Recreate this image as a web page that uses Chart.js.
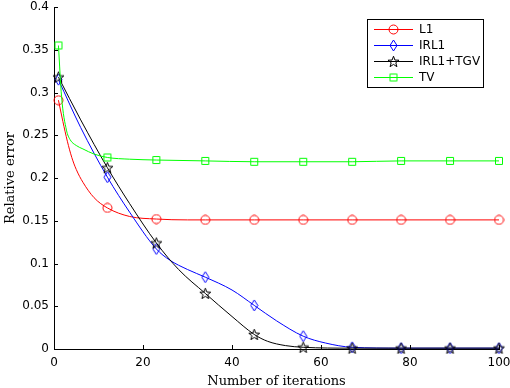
<!DOCTYPE html>
<html>
<head>
<meta charset="utf-8">
<script src="https://cdn.jsdelivr.net/npm/chart.js@4.4.0/dist/chart.umd.min.js"></script>
<style>
  body { margin: 0; background: #fff; }
  #wrap { width: 510px; height: 388px; }
</style>
</head>
<body>
<div id="wrap"><canvas id="errChart" width="510" height="388"></canvas></div>
<script>
// iterations where markers are drawn
const markerIters = [1, 12, 23, 34, 45, 56, 67, 78, 89, 100];

// L1
const l1Iters = [1, 2, 3, 4, 5, 6.5, 9, 12, 17, 23, 30, 34, 45, 56, 67, 78, 89, 100];
const l1Err = [0.291, 0.266, 0.243, 0.224, 0.210, 0.195, 0.177, 0.165, 0.155, 0.152, 0.151, 0.151, 0.151, 0.151, 0.151, 0.151, 0.151, 0.151];

// IRL1
const irl1Iters = [1, 6, 12, 17, 23, 26, 30, 34, 40, 45, 50, 56, 61, 67, 78, 89, 100];
const irl1Err = [0.315, 0.259, 0.201, 0.160, 0.117, 0.104, 0.093, 0.084, 0.069, 0.051, 0.033, 0.015, 0.007, 0.002, 0.001, 0.001, 0.001];

// IRL1+TGV
const tgvIters = [1, 6, 12, 17, 23, 28, 34, 40, 45, 48, 52, 56, 67, 78, 89, 100];
const tgvErr = [0.318, 0.268, 0.212, 0.170, 0.124, 0.093, 0.065, 0.038, 0.017, 0.009, 0.004, 0.002, 0.001, 0.001, 0.001, 0.001];

// TV
const tvIters = [1, 1.7, 2.8, 3.6, 5, 6.5, 9, 12, 17, 23, 34, 45, 56, 67, 78, 89, 100];
const tvErr = [0.355, 0.295, 0.256, 0.245, 0.238, 0.234, 0.228, 0.224, 0.222, 0.221, 0.220, 0.219, 0.219, 0.219, 0.220, 0.220, 0.220];

const xTicks = [0, 20, 40, 60, 80, 100];
const yTicks = [0, 0.05, 0.1, 0.15, 0.2, 0.25, 0.3, 0.35, 0.4];

// marker images (matlab style, unfilled)
function marker(w, h, color, path) {
  const c = document.createElement('canvas');
  c.width = w; c.height = h;
  const g = c.getContext('2d');
  g.strokeStyle = color;
  g.lineWidth = 1;
  g.beginPath();
  path(g);
  g.closePath();
  g.stroke();
  return c;
}
const circleMk = marker(11, 11, '#ff0000', g => g.arc(5.5, 5.5, 4.5, 0, Math.PI * 2));
const diamondMk = marker(9, 13, '#0000ff', g => {
  g.moveTo(4.5, 1); g.lineTo(8, 6.5); g.lineTo(4.5, 12); g.lineTo(1, 6.5);
});
const starMk = marker(13, 13, '#000000', g => {
  for (let i = 0; i < 10; i++) {
    const r = i % 2 === 0 ? 5.8 : 2.4;
    const a = -Math.PI / 2 + i * Math.PI / 5;
    const px = 6.5 + r * Math.cos(a), py = 7 + r * Math.sin(a);
    if (i === 0) g.moveTo(px, py); else g.lineTo(px, py);
  }
});
const squareMk = marker(10, 10, '#00ff00', g => g.rect(1.5, 1.5, 7, 7));

function pts(xs, ys) {
  return xs.map((x, i) => ({ x: x, y: ys[i] }));
}

function series(label, xs, ys, color, mk, order) {
  return {
    label: label,
    data: pts(xs, ys),
    borderColor: color,
    borderWidth: 1,
    cubicInterpolationMode: 'monotone',
    pointStyle: mk,
    pointRadius: ctx => (ctx.raw && markerIters.includes(ctx.raw.x)) ? 5 : 0,
    pointHoverRadius: 0,
    clip: false,
    order: order
  };
}

// inward tick marks + matlab-like legend box
const matlabDeco = {
  id: 'matlabDeco',
  afterDraw(chart) {
    const g = chart.ctx;
    const xs = chart.scales.x, ys = chart.scales.y;
    const a = chart.chartArea;
    g.save();
    g.strokeStyle = '#000';
    g.lineWidth = 1;
    g.beginPath();
    xTicks.forEach(v => {
      const px = Math.round(xs.getPixelForValue(v)) + 0.5;
      g.moveTo(px, a.bottom); g.lineTo(px, a.bottom - 4);
    });
    yTicks.forEach(v => {
      const py = Math.round(ys.getPixelForValue(v)) + 0.5;
      g.moveTo(a.left, py); g.lineTo(a.left + 4, py);
    });
    g.stroke();

    // legend
    const bx = 367.5, by = 19.5, bw = 116, bh = 68;
    g.fillStyle = '#fff';
    g.fillRect(bx, by, bw, bh);
    g.strokeRect(bx, by, bw, bh);
    const items = chart.data.datasets;
    g.font = '12px "DejaVu Sans"';
    g.textBaseline = 'middle';
    items.forEach((d, i) => {
      const y = 29.5 + i * 16;
      g.strokeStyle = d.borderColor;
      g.beginPath();
      g.moveTo(374, y); g.lineTo(413, y);
      g.stroke();
      const mk = d.pointStyle;
      g.drawImage(mk, 393.5 - mk.width / 2, y - mk.height / 2);
      g.fillStyle = '#000';
      g.fillText(d.label, 419, y + 0.5);
    });
    g.restore();
  }
};

new Chart(document.getElementById('errChart'), {
  type: 'line',
  data: {
    datasets: [
      series('L1', l1Iters, l1Err, '#ff0000', circleMk, 4),
      series('IRL1', irl1Iters, irl1Err, '#0000ff', diamondMk, 3),
      series('IRL1+TGV', tgvIters, tgvErr, '#000000', starMk, 2),
      series('TV', tvIters, tvErr, '#00ff00', squareMk, 1)
    ]
  },
  options: {
    responsive: false,
    devicePixelRatio: 1,
    animation: false,
    layout: { padding: { top: 7, right: 11, left: 0, bottom: 0 } },
    plugins: {
      legend: { display: false },
      tooltip: { enabled: false }
    },
    scales: {
      x: {
        type: 'linear',
        min: 0, max: 100,
        afterFit: s => { s.height = 39; s.paddingLeft = 0; s.paddingRight = 0; },
        afterBuildTicks: s => { s.ticks = xTicks.map(v => ({ value: v })); },
        grid: { display: false, drawTicks: false },
        border: { display: true, color: '#000', width: 1 },
        ticks: { color: '#000', font: { family: 'DejaVu Sans', size: 12 }, padding: 7, maxRotation: 0,
                 callback: v => String(v) },
        title: {
          display: true, text: 'Number of iterations', color: '#000',
          font: { family: 'DejaVu Serif', size: 13 }, padding: { top: 0, bottom: -1 }
        }
      },
      y: {
        min: 0, max: 0.4,
        afterFit: s => { s.width = 54; s.paddingTop = 0; s.paddingBottom = 0; },
        afterBuildTicks: s => { s.ticks = yTicks.map(v => ({ value: v })); },
        grid: { display: false, drawTicks: false },
        border: { display: true, color: '#000', width: 1 },
        ticks: { color: '#000', font: { family: 'DejaVu Sans', size: 12 }, padding: 5,
                 callback: v => String(v) },
        title: {
          display: true, text: 'Relative error', color: '#000',
          font: { family: 'DejaVu Serif', size: 13 }, padding: { top: 3, bottom: 2 }
        }
      }
    }
  },
  plugins: [matlabDeco]
});
</script>
</body>
</html>
